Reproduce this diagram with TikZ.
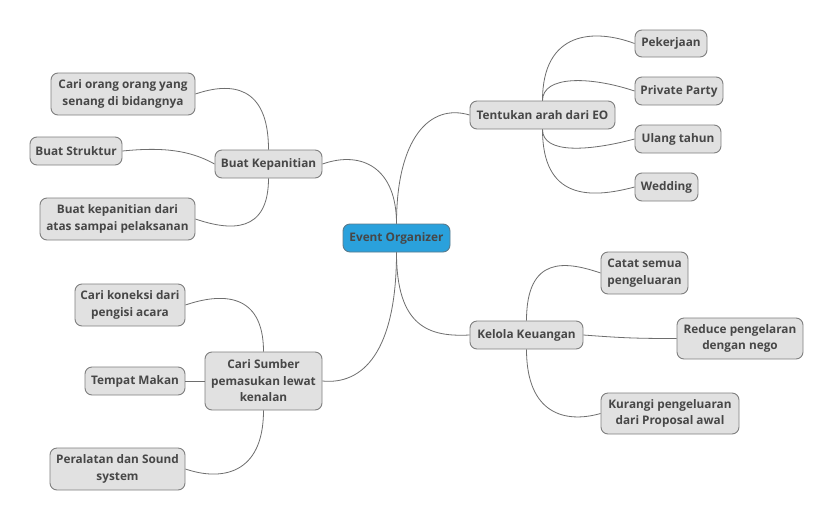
\documentclass[tikz,border=0pt]{standalone}
\usepackage{fontspec}
\setmainfont{Open Sans}
\definecolor{txt}{HTML}{474747}
\definecolor{boxfill}{HTML}{E1E1E1}
\definecolor{boxline}{HTML}{7F7F7F}
\definecolor{rootfill}{HTML}{2AA1DC}
\definecolor{rootline}{HTML}{5B7B8C}
\definecolor{conn}{HTML}{6E6E6E}
\begin{document}
\begin{tikzpicture}[x=1pt,y=-1pt,
  topic/.style={draw=boxline, fill=boxfill, line width=0.9pt, rounded corners=7pt,
    inner sep=0pt, align=center, text=txt,
    font=\fontsize{11.8}{16.5}\selectfont\bfseries},
  roottopic/.style={topic, fill=rootfill, draw=rootline},
  link/.style={draw=conn, line width=0.8pt}]
\useasboundingbox (0,0) rectangle (833,520);
\fill[white] (0,0) rectangle (833,520);

% central
\node[roottopic, minimum width=107, minimum height=28] (eo) at (396.5,238) {Event Organizer};

% main topics
\node[topic, minimum width=145, minimum height=28] (tent) at (542.5,115) {Tentukan arah dari EO};
\node[topic, minimum width=107, minimum height=28] (bk) at (268.5,164) {Buat Kepanitian};
\node[topic, minimum width=117, minimum height=58] (cs) at (263.5,381) {Cari Sumber\\pemasukan lewat\\kenalan};
\node[topic, minimum width=113, minimum height=28] (kk) at (526.5,335) {Kelola Keuangan};

% Tentukan children
\node[topic, minimum width=72, minimum height=27] (pek) at (671,43.5) {Pekerjaan};
\node[topic, minimum width=88, minimum height=28] (pp) at (679,91) {Private Party};
\node[topic, minimum width=86, minimum height=28] (ut) at (678,139) {Ulang tahun};
\node[topic, minimum width=63, minimum height=28] (wed) at (666.5,187) {Wedding};

% Buat Kepanitian children
\node[topic, minimum width=144, minimum height=42] (co) at (123,94) {Cari orang orang yang\\senang di bidangnya};
\node[topic, minimum width=92, minimum height=28] (bs) at (76,151) {Buat Struktur};
\node[topic, minimum width=155, minimum height=42] (bkd) at (117.5,219) {Buat kepanitian dari\\atas sampai pelaksanan};

% Cari Sumber children
\node[topic, minimum width=110, minimum height=42] (ck) at (130,305) {Cari koneksi dari\\pengisi acara};
\node[topic, minimum width=100, minimum height=28] (tm) at (135,381) {Tempat Makan};
\node[topic, minimum width=135, minimum height=42] (ps) at (117.5,469) {Peralatan dan Sound\\system};

% Kelola children
\node[topic, minimum width=87, minimum height=42] (cat) at (644.5,273) {Catat semua\\pengeluaran};
\node[topic, minimum width=126, minimum height=41] (red) at (740,338.5) {Reduce pengelaran\\dengan nego};
\node[topic, minimum width=138, minimum height=41] (kur) at (670,413.5) {Kurangi pengeluaran\\dari Proposal awal};

% central connectors
\path[link] (eo.north) .. controls +(0,-85) and +(-40,-12) .. (tent.west);
\path[link] (eo.north) .. controls +(0,-55) and +(40,-14) .. (bk.east);
\path[link] (eo.south) .. controls +(0,75) and +(-40,2) .. (kk.west);
\path[link] (eo.south) .. controls +(0,100) and +(40,4) .. (cs.east);

% Tentukan
\path[link] (tent.north) .. controls +(0,-70) and +(-40,-15) .. (pek.west);
\path[link] (tent.north) .. controls +(0,-25) and +(-45,-15) .. (pp.west);
\path[link] (tent.south) .. controls +(0,25) and +(-45,12) .. (ut.west);
\path[link] (tent.south) .. controls +(0,70) and +(-45,12) .. (wed.west);

% Buat Kepanitian
\path[link] (bk.north) .. controls +(0,-65) and +(35,-12) .. (co.east);
\path[link] (bk.west) .. controls +(-25,-14) and +(40,-4) .. (bs.east);
\path[link] (bk.south) .. controls +(0,55) and +(35,12) .. (bkd.east);

% Cari Sumber
\path[link] (cs.north) .. controls +(0,-60) and +(35,-12) .. (ck.east);
\path[link] (cs.west) -- (tm.east);
\path[link] (cs.south) .. controls +(0,65) and +(35,12) .. (ps.east);

% Kelola
\path[link] (kk.north) .. controls +(0,-65) and +(-35,-12) .. (cat.west);
\path[link] (kk.east) .. controls +(40,3) and +(-40,0) .. (red.west);
\path[link] (kk.south) .. controls +(0,65) and +(-35,10) .. (kur.west);
\end{tikzpicture}
\end{document}
